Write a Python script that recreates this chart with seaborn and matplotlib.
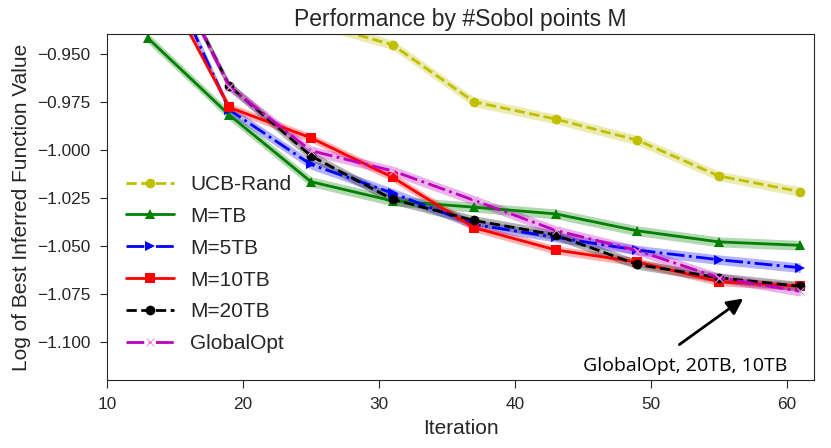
import numpy as np
import matplotlib
matplotlib.use("Agg")
import matplotlib.pyplot as plt
import seaborn as sns

# iterations (every 6 evaluations)
iters = [13, 19, 25, 31, 37, 43, 49, 55, 61]

# log of best inferred function value
ucb_rand = [-0.905, -0.918, -0.933, -0.945, -0.9748, -0.9838, -0.9948, -1.0135, -1.0217]
m_tb = [-0.9415, -0.9817, -1.0165, -1.0265, -1.0298, -1.0333, -1.0421, -1.0479, -1.0497]
m_5tb = [-0.886, -0.979, -1.0075, -1.0224, -1.0388, -1.0455, -1.0522, -1.0572, -1.0614]
m_10tb = [-0.898, -0.9777, -0.9936, -1.0142, -1.0405, -1.0521, -1.0584, -1.0686, -1.0711]
m_20tb = [-0.882, -0.9665, -1.0030, -1.0257, -1.0367, -1.0443, -1.0597, -1.0666, -1.0711]
global_opt = [-0.882, -0.9670, -1.0003, -1.0108, -1.0262, -1.0419, -1.0524, -1.0666, -1.0737]

# half width of the shaded band for each series
band_ucb = 0.0025
band_tb = 0.0026
band_5tb = 0.0025
band_10tb = 0.0022
band_20tb = 0.0025
band_global = 0.0025

series = [
    ("UCB-Rand", ucb_rand, band_ucb, "y", "o", "--"),
    ("M=TB", m_tb, band_tb, "g", "^", "-"),
    ("M=5TB", m_5tb, band_5tb, "b", ">", "-."),
    ("M=10TB", m_10tb, band_10tb, "r", "s", "-"),
    ("M=20TB", m_20tb, band_20tb, "k", "o", "--"),
    ("GlobalOpt", global_opt, band_global, "m", "x", "-."),
]

sns.set_style("ticks")
plt.rcParams["font.family"] = ["Liberation Sans", "DejaVu Sans"]
plt.rcParams["axes.unicode_minus"] = True

fig, ax = plt.subplots(figsize=(8.31, 4.48), dpi=100)
fig.subplots_adjust(left=0.1288, right=0.9795, bottom=0.1518, top=0.924)

for label, vals, band, color, marker, ls in series:
    vals = np.array(vals)
    ax.fill_between(iters, vals - band, vals + band, color=color, alpha=0.3, lw=0)
    if marker == "x":
        sns.lineplot(x=iters, y=vals, ax=ax, color=color, marker=marker, linestyle=ls,
                     lw=2, markersize=6, markeredgewidth=0.8, markeredgecolor="#e9a0e9",
                     label=label, errorbar=None)
    else:
        sns.lineplot(x=iters, y=vals, ax=ax, color=color, marker=marker, linestyle=ls,
                     lw=2, markersize=7, markeredgewidth=0, label=label, errorbar=None)

ax.set_xlim(10, 62)
ax.set_ylim(-1.12, -0.9394)
ax.set_xticks([10, 20, 30, 40, 50, 60])
ax.set_yticks([-0.950, -0.975, -1.000, -1.025, -1.050, -1.075, -1.100])
ax.yaxis.set_major_formatter(
    matplotlib.ticker.FuncFormatter(lambda v, pos: f"{v:.3f}".replace("-", "\u2212")))
ax.tick_params(axis="x", labelsize=12.4, length=6, pad=6)
ax.tick_params(axis="y", labelsize=12.4, length=5, pad=7)

ax.set_title("Performance by #Sobol points M", fontsize=16.5, pad=6)
ax.set_xlabel("Iteration", fontsize=15, labelpad=5)
ax.set_ylabel("Log of Best Inferred Function Value", fontsize=15, labelpad=4)

ax.legend(loc="center left", bbox_to_anchor=(0.0, 0.335), frameon=False,
          fontsize=15, handlelength=2.3, labelspacing=0.62, borderaxespad=0.5)

# annotation pointing at the three overlapping curves
ax.annotate("", xy=(56.8, -1.0775), xytext=(52.1, -1.1015),
            arrowprops=dict(arrowstyle="-|>", color="black", lw=2, mutation_scale=24,
                            shrinkA=0, shrinkB=0))
ax.text(52.5, -1.1125, "GlobalOpt, 20TB, 10TB", fontsize=14,
        family=["Open Sans", "DejaVu Sans"], color="black", ha="center", va="center")

fig.savefig("out.png", dpi=100)
